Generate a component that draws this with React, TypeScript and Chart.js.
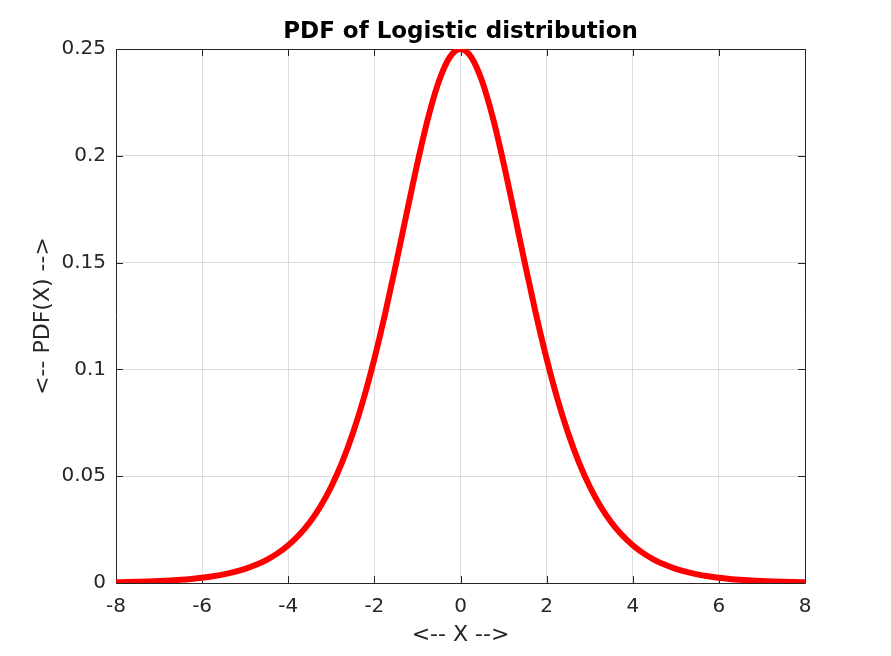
import React, { useEffect, useRef } from "react";
import { Chart, registerables } from "chart.js";

Chart.register(...registerables);

const xValues = [
  -8, -7.75, -7.5, -7.25, -7, -6.75, -6.5, -6.25, -6, -5.75, -5.5, -5.25, -5,
  -4.75, -4.5, -4.25, -4, -3.75, -3.5, -3.25, -3, -2.75, -2.5, -2.25, -2, -1.75,
  -1.5, -1.25, -1, -0.75, -0.5, -0.25, 0, 0.25, 0.5, 0.75, 1, 1.25, 1.5, 1.75, 2,
  2.25, 2.5, 2.75, 3, 3.25, 3.5, 3.75, 4, 4.25, 4.5, 4.75, 5, 5.25, 5.5, 5.75, 6,
  6.25, 6.5, 6.75, 7, 7.25, 7.5, 7.75, 8,
];

const pdfValues = [
  0.000335, 0.00043, 0.000552, 0.000709, 0.00091, 0.001168, 0.001499, 0.001923,
  0.002467, 0.003163, 0.004054, 0.005193, 0.006648, 0.008504, 0.010866, 0.013866,
  0.017663, 0.022449, 0.028453, 0.035934, 0.045177, 0.056462, 0.070104, 0.086263,
  0.104994, 0.126129, 0.149146, 0.173105, 0.196612, 0.217896, 0.235004, 0.246134,
  0.25,
  0.246134, 0.235004, 0.217896, 0.196612, 0.173105, 0.149146, 0.126129, 0.104994,
  0.086263, 0.070104, 0.056462, 0.045177, 0.035934, 0.028453, 0.022449, 0.017663,
  0.013866, 0.010866, 0.008504, 0.006648, 0.005193, 0.004054, 0.003163, 0.002467,
  0.001923, 0.001499, 0.001168, 0.00091, 0.000709, 0.000552, 0.00043, 0.000335,
];

const xTicks = [-8, -6, -4, -2, 0, 2, 4, 6, 8];
const yTicks = [0, 0.05, 0.1, 0.15, 0.2, 0.25];

const titleText = "PDF of Logistic distribution";
const xLabel = "<-- X -->";
const yLabel = "<-- PDF(X) -->";

const AXIS_COLOR = "#262626";
const GRID_COLOR = "#dcdcdc";
const FONT = "'DejaVu Sans', sans-serif";

const boxPlugin = {
  id: "matlabBox",
  beforeDatasetsDraw(chart: any) {
    const { ctx, chartArea } = chart;
    const { left, right, top, bottom } = chartArea;
    const xs = chart.scales.x;
    const ys = chart.scales.y;
    const tl = 7;
    ctx.save();
    ctx.strokeStyle = AXIS_COLOR;
    ctx.lineWidth = 1;
    ctx.beginPath();
    ctx.rect(Math.round(left) + 0.5, Math.round(top) + 0.5, Math.round(right) - Math.round(left), Math.round(bottom) - Math.round(top));
    for (const t of xTicks) {
      const px = Math.round(xs.getPixelForValue(t)) + 0.5;
      ctx.moveTo(px, bottom);
      ctx.lineTo(px, bottom - tl);
      ctx.moveTo(px, top);
      ctx.lineTo(px, top + tl);
    }
    for (const t of yTicks) {
      const py = Math.round(ys.getPixelForValue(t)) + 0.5;
      ctx.moveTo(left, py);
      ctx.lineTo(left + tl, py);
      ctx.moveTo(right, py);
      ctx.lineTo(right - tl, py);
    }
    ctx.stroke();
    ctx.restore();
  },
};

export default function App() {
  const canvasRef = useRef<HTMLCanvasElement | null>(null);

  useEffect(() => {
    document.body.style.margin = "0";
    const canvas = canvasRef.current;
    if (!canvas) return;
    const data = xValues.map((x, i) => ({ x, y: pdfValues[i] }));
    const chart = new Chart(canvas, {
      type: "line",
      data: {
        datasets: [
          {
            data,
            borderColor: "#ff0000",
            borderWidth: 6,
            pointRadius: 0,
            fill: false,
            cubicInterpolationMode: "monotone",
          },
        ],
      },
      options: {
        responsive: false,
        animation: false,
        devicePixelRatio: 1,
        layout: { padding: { left: 0, right: 86, top: 0, bottom: 0 } },
        plugins: {
          legend: { display: false },
          tooltip: { enabled: false },
          title: {
            display: true,
            fullSize: false,
            text: titleText,
            color: "#000000",
            font: { family: FONT, size: 23, weight: "bold", lineHeight: 1.2 },
            padding: { top: 18, bottom: 3.4 },
          },
        },
        scales: {
          x: {
            type: "linear",
            min: -8,
            max: 8,
            afterBuildTicks: (s: any) => {
              s.ticks = xTicks.map((v) => ({ value: v }));
            },
            afterFit: (s: any) => {
              s.height = 73;
            },
            ticks: {
              color: AXIS_COLOR,
              font: { family: FONT, size: 20 },
              padding: 12,
              maxRotation: 0,
              callback: (v: any) => String(v),
            },
            grid: { color: GRID_COLOR, drawTicks: false },
            border: { display: false },
            title: {
              display: true,
              text: xLabel,
              color: AXIS_COLOR,
              font: { family: FONT, size: 22, lineHeight: 1.2 },
              padding: { top: 0, bottom: 8 },
            },
          },
          y: {
            type: "linear",
            min: 0,
            max: 0.25,
            afterBuildTicks: (s: any) => {
              s.ticks = yTicks.map((v) => ({ value: v }));
            },
            afterFit: (s: any) => {
              s.width = 116;
            },
            ticks: {
              color: AXIS_COLOR,
              font: { family: FONT, size: 20 },
              padding: 10,
              callback: (v: any) => String(v),
            },
            grid: { color: GRID_COLOR, drawTicks: false },
            border: { display: false },
            title: {
              display: true,
              text: yLabel,
              color: AXIS_COLOR,
              font: { family: FONT, size: 22, lineHeight: 1.2 },
              padding: { top: 30, bottom: 0 },
            },
          },
        },
      },
      plugins: [boxPlugin],
    });
    return () => chart.destroy();
  }, []);

  return (
    <div style={{ position: "absolute", left: 0, top: 0, width: 891, height: 656, background: "#ffffff" }}>
      <canvas ref={canvasRef} width={891} height={656} style={{ display: "block" }} />
    </div>
  );
}
